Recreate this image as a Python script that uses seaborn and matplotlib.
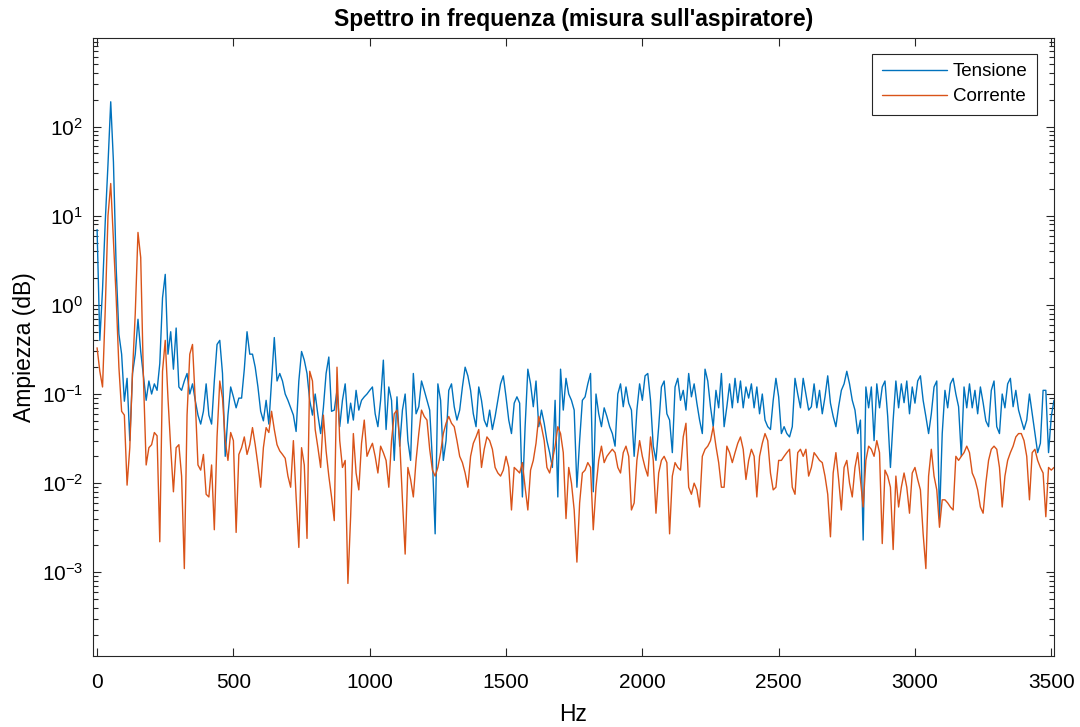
import numpy as np
import pandas as pd
import matplotlib
matplotlib.use("Agg")
import matplotlib.pyplot as plt
import seaborn as sns
from matplotlib.ticker import FixedLocator, LogLocator, NullLocator, NullFormatter
from matplotlib.lines import Line2D

# Spectrum sampled every 10 Hz, from 0 Hz to 3510 Hz
freq_step = 10

tensione = [
    7.0, 0.4, 1.5, 8.7, 38, 190, 40, 2.6, 0.47, 0.28,
    0.083, 0.15, 0.03, 0.17, 0.28, 0.69, 0.3, 0.16, 0.085, 0.14,
    0.1, 0.13, 0.11, 0.22, 1.2, 2.2, 0.28, 0.5, 0.19, 0.55,
    0.12, 0.11, 0.14, 0.17, 0.1, 0.13, 0.085, 0.058, 0.046, 0.064,
    0.13, 0.058, 0.046, 0.14, 0.36, 0.4, 0.17, 0.02, 0.058, 0.12,
    0.093, 0.07, 0.09, 0.09, 0.19, 0.5, 0.28, 0.28, 0.2, 0.12,
    0.064, 0.05, 0.085, 0.046, 0.14, 0.43, 0.14, 0.17, 0.14, 0.1,
    0.085, 0.07, 0.058, 0.038, 0.14, 0.3, 0.24, 0.17, 0.085, 0.058,
    0.1, 0.058, 0.036, 0.07, 0.17, 0.26, 0.064, 0.066, 0.11, 0.043,
    0.085, 0.13, 0.047, 0.079, 0.051, 0.11, 0.066, 0.085, 0.093, 0.1,
    0.11, 0.12, 0.06, 0.043, 0.085, 0.24, 0.04, 0.12, 0.085, 0.018,
    0.093, 0.026, 0.066, 0.1, 0.03, 0.018, 0.17, 0.06, 0.072, 0.14,
    0.11, 0.085, 0.066, 0.018, 0.0027, 0.13, 0.085, 0.018, 0.03, 0.11,
    0.13, 0.072, 0.051, 0.066, 0.12, 0.2, 0.16, 0.11, 0.06, 0.043,
    0.12, 0.085, 0.051, 0.043, 0.066, 0.04, 0.056, 0.085, 0.13, 0.16,
    0.093, 0.051, 0.036, 0.079, 0.093, 0.079, 0.007, 0.043, 0.19, 0.13,
    0.072, 0.14, 0.043, 0.066, 0.047, 0.03, 0.022, 0.015, 0.085, 0.007,
    0.19, 0.066, 0.15, 0.1, 0.085, 0.066, 0.009, 0.03, 0.085, 0.093,
    0.13, 0.17, 0.008, 0.1, 0.06, 0.043, 0.07, 0.056, 0.043, 0.036,
    0.026, 0.1, 0.13, 0.072, 0.12, 0.079, 0.066, 0.02, 0.066, 0.13,
    0.085, 0.16, 0.17, 0.085, 0.026, 0.018, 0.043, 0.12, 0.14, 0.06,
    0.051, 0.022, 0.12, 0.15, 0.085, 0.11, 0.066, 0.17, 0.093, 0.13,
    0.079, 0.051, 0.036, 0.19, 0.14, 0.072, 0.043, 0.11, 0.07, 0.17,
    0.043, 0.072, 0.13, 0.07, 0.15, 0.08, 0.14, 0.07, 0.12, 0.09,
    0.13, 0.07, 0.12, 0.06, 0.1, 0.051, 0.043, 0.04, 0.085, 0.15,
    0.093, 0.036, 0.043, 0.036, 0.033, 0.043, 0.15, 0.1, 0.07, 0.15,
    0.1, 0.066, 0.072, 0.13, 0.07, 0.11, 0.06, 0.093, 0.16, 0.079,
    0.056, 0.043, 0.072, 0.11, 0.13, 0.18, 0.13, 0.085, 0.066, 0.036,
    0.051, 0.0023, 0.12, 0.07, 0.12, 0.03, 0.13, 0.07, 0.12, 0.14,
    0.056, 0.015, 0.051, 0.14, 0.07, 0.13, 0.08, 0.14, 0.06, 0.12,
    0.079, 0.14, 0.16, 0.085, 0.056, 0.036, 0.06, 0.12, 0.14, 0.004,
    0.036, 0.11, 0.07, 0.13, 0.15, 0.1, 0.072, 0.02, 0.12, 0.07,
    0.13, 0.07, 0.11, 0.06, 0.12, 0.08, 0.05, 0.043, 0.11, 0.14,
    0.043, 0.036, 0.1, 0.07, 0.13, 0.15, 0.072, 0.11, 0.066, 0.051,
    0.04, 0.051, 0.1, 0.06, 0.036, 0.022, 0.028, 0.11, 0.11, 0.022,
    0.056, 0.085,
]

corrente = [
    0.33, 0.18, 0.12, 0.9, 10, 23, 5.2, 1.2, 0.2, 0.064,
    0.058, 0.0095, 0.025, 0.18, 0.8, 6.5, 3.4, 0.15, 0.016, 0.025,
    0.027, 0.037, 0.034, 0.0022, 0.18, 0.4, 0.09, 0.025, 0.008, 0.025,
    0.027, 0.012, 0.0011, 0.058, 0.28, 0.36, 0.085, 0.016, 0.014, 0.021,
    0.0075, 0.007, 0.016, 0.003, 0.033, 0.14, 0.09, 0.03, 0.018, 0.037,
    0.03, 0.0028, 0.021, 0.025, 0.033, 0.021, 0.027, 0.042, 0.027, 0.016,
    0.009, 0.025, 0.042, 0.037, 0.064, 0.04, 0.027, 0.023, 0.021, 0.019,
    0.012, 0.009, 0.03, 0.007, 0.0019, 0.025, 0.016, 0.0024, 0.18, 0.14,
    0.04, 0.025, 0.015, 0.058, 0.023, 0.012, 0.007, 0.0038, 0.2, 0.03,
    0.015, 0.018, 0.00075, 0.0042, 0.036, 0.013, 0.0084, 0.028, 0.051, 0.02,
    0.024, 0.028, 0.02, 0.013, 0.026, 0.022, 0.018, 0.009, 0.03, 0.06,
    0.066, 0.03, 0.0065, 0.0016, 0.015, 0.011, 0.007, 0.018, 0.036, 0.066,
    0.056, 0.051, 0.024, 0.014, 0.012, 0.015, 0.022, 0.036, 0.047, 0.056,
    0.047, 0.043, 0.03, 0.02, 0.017, 0.013, 0.009, 0.02, 0.028, 0.033,
    0.04, 0.015, 0.024, 0.033, 0.03, 0.024, 0.015, 0.013, 0.012, 0.014,
    0.02, 0.015, 0.005, 0.015, 0.014, 0.013, 0.017, 0.009, 0.005, 0.014,
    0.018, 0.028, 0.056, 0.043, 0.03, 0.015, 0.013, 0.018, 0.026, 0.043,
    0.036, 0.022, 0.004, 0.015, 0.01, 0.005, 0.0013, 0.006, 0.013, 0.014,
    0.017, 0.015, 0.003, 0.009, 0.018, 0.026, 0.017, 0.02, 0.022, 0.024,
    0.022, 0.015, 0.013, 0.022, 0.026, 0.02, 0.005, 0.006, 0.018, 0.03,
    0.02, 0.015, 0.012, 0.033, 0.018, 0.0046, 0.013, 0.018, 0.02, 0.017,
    0.0027, 0.012, 0.017, 0.015, 0.014, 0.033, 0.047, 0.009, 0.0075, 0.01,
    0.0084, 0.0054, 0.02, 0.024, 0.026, 0.03, 0.043, 0.026, 0.017, 0.009,
    0.009, 0.026, 0.022, 0.017, 0.022, 0.028, 0.033, 0.024, 0.011, 0.018,
    0.024, 0.02, 0.007, 0.02, 0.028, 0.036, 0.03, 0.013, 0.0084, 0.009,
    0.018, 0.018, 0.02, 0.022, 0.024, 0.009, 0.0075, 0.022, 0.024, 0.02,
    0.024, 0.012, 0.015, 0.022, 0.02, 0.018, 0.017, 0.012, 0.0075, 0.0025,
    0.013, 0.022, 0.011, 0.005, 0.015, 0.018, 0.01, 0.007, 0.015, 0.022,
    0.011, 0.0054, 0.018, 0.026, 0.024, 0.02, 0.03, 0.022, 0.0021, 0.014,
    0.012, 0.009, 0.0018, 0.012, 0.0054, 0.009, 0.013, 0.009, 0.0046, 0.013,
    0.015, 0.011, 0.0084, 0.0027, 0.0011, 0.012, 0.024, 0.012, 0.0084, 0.0032,
    0.0065, 0.0065, 0.006, 0.0054, 0.005, 0.02, 0.018, 0.02, 0.022, 0.026,
    0.022, 0.013, 0.011, 0.0084, 0.0054, 0.0046, 0.01, 0.018, 0.024, 0.026,
    0.024, 0.015, 0.0054, 0.012, 0.018, 0.022, 0.026, 0.033, 0.036, 0.036,
    0.03, 0.02, 0.0065, 0.022, 0.024, 0.018, 0.015, 0.013, 0.0042, 0.015,
    0.014, 0.015,
]

series_names = ["Tensione", "Corrente"]
series_colors = {"Tensione": "#0072BD", "Corrente": "#D95319"}
x_ticks = [0, 500, 1000, 1500, 2000, 2500, 3000, 3500]
y_ticks = [1e-3, 1e-2, 1e-1, 1e0, 1e1, 1e2]

n = min(len(tensione), len(corrente))
freq = np.arange(n) * freq_step
df = pd.DataFrame({
    "Hz": np.concatenate([freq, freq]),
    "Ampiezza": np.concatenate([tensione[:n], corrente[:n]]),
    "Segnale": [series_names[0]] * n + [series_names[1]] * n,
})

sns.set_theme(style="white")
plt.rcParams["font.family"] = ["Liberation Sans", "DejaVu Sans"]
plt.rcParams["mathtext.fontset"] = "custom"
plt.rcParams["mathtext.rm"] = "Liberation Sans"
plt.rcParams["mathtext.it"] = "Liberation Sans:italic"
plt.rcParams["mathtext.bf"] = "Liberation Sans:bold"
plt.rcParams["text.color"] = "black"
plt.rcParams["axes.labelcolor"] = "black"

W, H = 1080, 727
fig = plt.figure(figsize=(W / 100, H / 100), dpi=100)
fig.patch.set_facecolor("white")
ax_l, ax_r, ax_t, ax_b = 93, 1054, 37.5, 656
ax = fig.add_axes([ax_l / W, 1 - ax_b / H, (ax_r - ax_l) / W, (ax_b - ax_t) / H])

sns.lineplot(data=df, x="Hz", y="Ampiezza", hue="Segnale", hue_order=series_names,
             palette=series_colors, estimator=None, sort=False, linewidth=1.0,
             legend=False, ax=ax)

ax.set_yscale("log")
ax.set_xlim(-15, 3510)
ax.set_ylim(1.15e-4, 1e3)

dark = "#262626"
ax.xaxis.set_major_locator(FixedLocator(x_ticks))
ax.xaxis.set_minor_locator(NullLocator())
ax.yaxis.set_major_locator(FixedLocator(y_ticks))
ax.yaxis.set_minor_locator(LogLocator(base=10, subs=np.arange(2, 10), numticks=20))
ax.yaxis.set_minor_formatter(NullFormatter())

for sp in ax.spines.values():
    sp.set_visible(True)
    sp.set_color(dark)
    sp.set_linewidth(0.8)

ax.tick_params(which="both", direction="in", top=True, right=True, bottom=True,
               left=True, colors=dark, labelcolor="black", width=0.8)
ax.tick_params(which="major", length=6, labelsize=15)
ax.tick_params(which="minor", length=3.5)
ax.tick_params(axis="x", which="major", pad=12)
ax.tick_params(axis="y", which="major", pad=7)

ax.set_xlabel("Hz", fontsize=16.5, labelpad=8)
ax.set_ylabel("Ampiezza (dB)", fontsize=16.5, labelpad=4)
ax.set_title("Spettro in frequenza (misura sull'aspiratore)", fontsize=16.5,
             fontweight="bold", pad=8, color="black")

handles = [Line2D([], [], color=series_colors[s], linewidth=1.0) for s in series_names]
leg = ax.legend(handles, series_names, loc="upper right",
                bbox_to_anchor=(1037 / W, 1 - 54 / H), bbox_transform=fig.transFigure,
                fontsize=13.5, frameon=True, fancybox=False, framealpha=1,
                edgecolor=dark, handlelength=3.5, handletextpad=0.3,
                borderpad=0.5, labelspacing=0.4, borderaxespad=0)
leg.get_frame().set_linewidth(0.8)
for txt in leg.get_texts():
    txt.set_color("black")

fig.savefig("out.png", dpi=100, facecolor="white")
